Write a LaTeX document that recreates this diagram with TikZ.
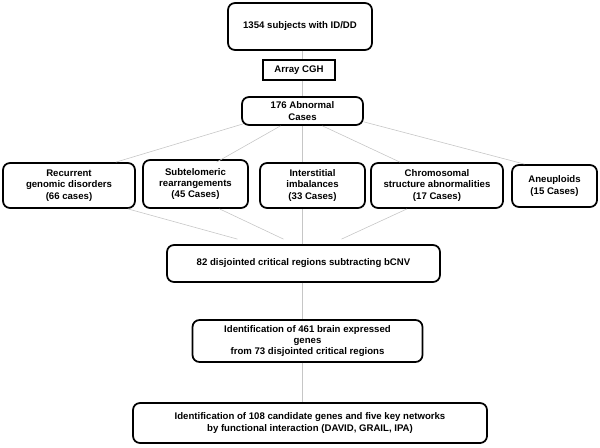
\documentclass[tikz,border=0pt]{standalone}
\usepackage{fontspec}
\setmainfont{Liberation Sans}
\usetikzlibrary{calc}

\begin{document}
\begin{tikzpicture}[x=0.03cm, y=-0.03cm,
  box/.style={draw, line width=1.5pt, rounded corners=6pt, align=center, inner sep=0pt,
    font=\fontsize{8.2}{9.6}\selectfont\bfseries},
  link/.style={draw=gray!45, line width=0.5pt}]
\useasboundingbox (0,0) rectangle (600,447);

\node[box, minimum width=144*0.03cm, minimum height=47*0.03cm] (subj) at (300,26.5) {1354 subjects with ID/DD};
\node[box, rounded corners=0pt, minimum width=72*0.03cm, minimum height=20*0.03cm] (cgh) at (299,70) {Array CGH};
\node[box, minimum width=121*0.03cm, minimum height=28*0.03cm] (abn) at (302.5,111) {176 Abnormal\\Cases};

\node[box, minimum width=132*0.03cm, minimum height=45*0.03cm] (rec) at (69,185.5) {Recurrent\\genomic disorders\\(66 cases)};
\node[box, minimum width=105*0.03cm, minimum height=48*0.03cm] (sub) at (195.5,184) {Subtelomeric\\rearrangements\\(45 Cases)};
\node[box, minimum width=105*0.03cm, minimum height=45*0.03cm] (int) at (312.5,185.5) {Interstitial\\imbalances\\(33 Cases)};
\node[box, minimum width=132*0.03cm, minimum height=45*0.03cm] (chr) at (437,185.5) {Chromosomal\\structure abnormalities\\(17 Cases)};
\node[box, minimum width=85*0.03cm, minimum height=42*0.03cm] (ane) at (554.5,186) {Aneuploids\\(15 Cases)};

\node[box, minimum width=273*0.03cm, minimum height=37*0.03cm] (crit) at (303.5,263.5) {82 disjointed critical regions subtracting bCNV};
\node[box, minimum width=230*0.03cm, minimum height=42*0.03cm] (brain) at (307.5,341) {Identification of 461 brain expressed\\genes\\from 73 disjointed critical regions};
\node[box, minimum width=354*0.03cm, minimum height=40*0.03cm] (final) at (310,423) {Identification of 108 candidate genes and five key networks\\by functional interaction (DAVID, GRAIL, IPA)};

\draw[link] (subj.south -| abn.south) -- (cgh.north -| abn.south);
\draw[link] (cgh.south -| abn.south) -- (abn.north);

\draw[link] ($(abn.south west)+(2,-2)$) -- ($(rec.north east)+(-20,0)$);
\draw[link] ($(abn.south)+(-22,0)$) -- ($(sub.north)+(21,3)$);
\draw[link] (abn.south) -- (abn.south |- int.north);
\draw[link] ($(abn.south)+(20,0)$) -- ($(chr.north)+(-37,0)$);
\draw[link] ($(abn.south east)+(0,-4)$) -- ($(ane.north)+(-30,0)$);

\draw[link] ($(rec.south east)+(-8,0)$) -- ($(crit.north)+(-66,-5)$);
\draw[link] ($(sub.south)+(24,0)$) -- ($(crit.north)+(-20,-5)$);
\draw[link] (crit.north -| abn.south) -- (int.south -| abn.south);
\draw[link] ($(chr.south)+(-30,0)$) -- ($(crit.north)+(38,-5)$);

\draw[link] (crit.south -| abn.south) -- (brain.north -| abn.south);
\draw[link] (brain.south -| abn.south) -- (final.north -| abn.south);
\end{tikzpicture}
\end{document}
